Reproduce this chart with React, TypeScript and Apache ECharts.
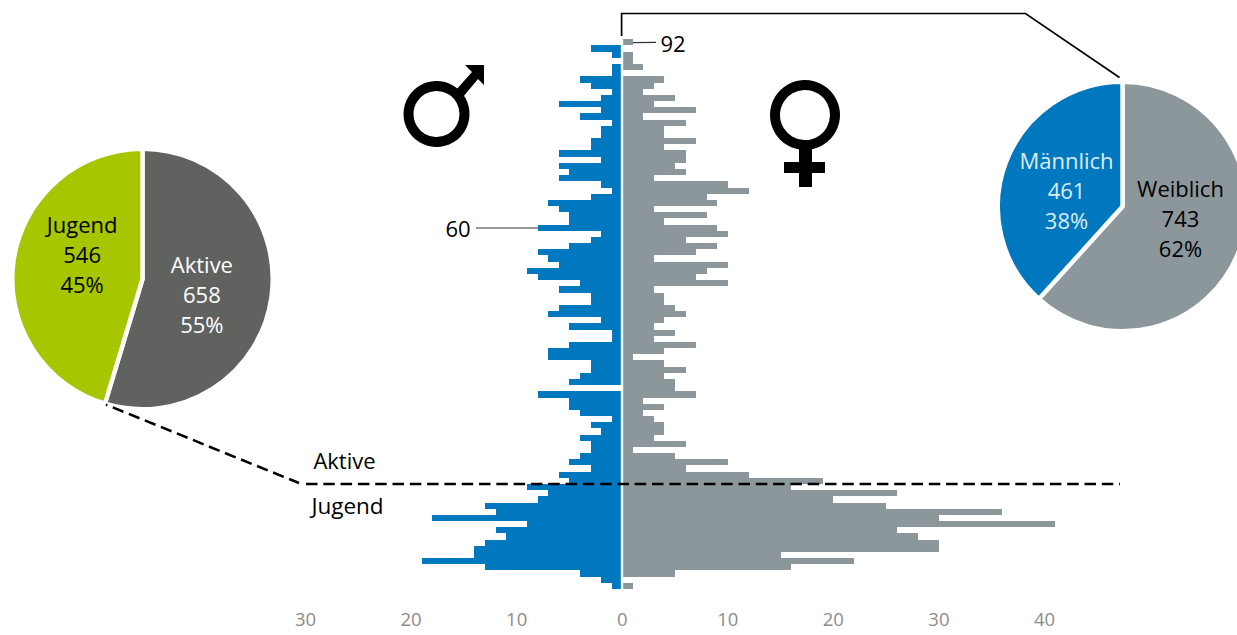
import React, { useEffect, useRef } from "react";
import * as echarts from "echarts";

const ages = [92,91,90,89,88,87,86,85,84,83,82,81,80,79,78,77,76,75,74,73,72,71,70,69,68,67,66,65,64,63,62,61,60,59,58,57,56,55,54,53,52,51,50,49,48,47,46,45,44,43,42,41,40,39,38,37,36,35,34,33,32,31,30,29,28,27,26,25,24,23,22,21,20,19,18,17,16,15,14,13,12,11,10,9,8,7,6,5,4].map(String);
const maleCounts = [0,3,1,0,1,1,4,3,1,2,6,2,4,1,2,2,3,3,6,2,6,5,6,2,1,3,7,6,5,5,8,2,3,5,8,7,6,9,8,4,6,3,3,6,7,2,5,1,1,5,7,7,3,3,4,5,0,8,5,5,4,1,3,2,4,3,3,4,5,3,6,5,9,7,8,13,12,18,9,12,11,13,14,14,19,13,4,2,1];
const femaleCounts = [1,0,1,1,2,0,4,3,2,5,3,7,2,6,4,4,7,4,6,6,5,6,3,10,12,8,9,3,8,4,9,10,6,9,7,3,10,8,7,10,3,4,4,5,6,4,3,5,3,7,4,1,4,6,4,5,5,7,2,4,2,3,4,4,3,6,1,5,10,6,12,19,16,26,20,25,36,30,41,26,28,30,30,15,22,16,5,0,1];
const genderPie = [
  { name: "Weiblich", value: 743, pct: "62%" },
  { name: "Männlich", value: 461, pct: "38%" },
];
const groupPie = [
  { name: "Aktive", value: 658, pct: "55%" },
  { name: "Jugend", value: 546, pct: "45%" },
];
const BLUE = "#0078bf";
const GRAY = "#8c979c";
const GREEN = "#a8c600";
const DARK = "#60625f";
const FONT = "'Open Sans', 'Noto Sans', sans-serif";

const MARS_HEAD = "M465 65 L484 65 L484 85 L478 79 L463 97 L456 90 L472 72 Z";

export default function App() {
  const ref = useRef<HTMLDivElement>(null);
  useEffect(() => {
    document.body.style.margin = "0";
    document.body.style.overflow = "hidden";
    const chart = echarts.init(ref.current!, undefined, { renderer: "svg" });
    echarts.graphic.registerShape("marsHead", echarts.graphic.extendPath(MARS_HEAD, {}) as any);
    const pieLabel = {
      position: "inside" as const,
      fontFamily: FONT,
      fontSize: 22,
      lineHeight: 30,
      formatter: (p: any) => `${p.name}\n${p.value}\n${p.data.pct}`,
      color: "#000",
    };
    const option: any = {
      animation: false,
      backgroundColor: "#fff",
      grid: { left: 305.5, width: 739, top: 39.3, height: 549.7, containLabel: false },
      xAxis: {
        type: "value",
        min: -30,
        max: 40,
        interval: 10,
        splitLine: { show: false },
        axisLine: { show: false },
        axisTick: { show: false },
        axisLabel: {
          color: "#8c8c8c",
          fontFamily: FONT,
          fontSize: 18.5,
          margin: 20,
          formatter: (v: number) => String(Math.abs(v)),
        },
      },
      yAxis: {
        type: "category",
        data: ages,
        inverse: true,
        axisLine: { show: false },
        axisTick: { show: false },
        axisLabel: { show: false },
        splitLine: { show: false },
      },
      series: [
        {
          type: "bar",
          name: "Männlich",
          data: maleCounts.map((v) => -v),
          barWidth: "100%",
          barGap: "-100%",
          clip: false,
          itemStyle: { color: BLUE },
          z: 2,
        },
        {
          type: "bar",
          name: "Weiblich",
          data: femaleCounts,
          barWidth: "100%",
          barGap: "-100%",
          clip: false,
          itemStyle: { color: GRAY },
          z: 2,
          markLine: {
            silent: true,
            symbol: "none",
            label: { show: false },
            lineStyle: { color: "#fff", width: 2.4, type: "solid" },
            data: [{ xAxis: 0 }],
            z: 3,
          },
        },
        {
          type: "pie",
          center: [142.5, 279],
          radius: [0, 130.2],
          startAngle: 90,
          clockwise: true,
          silent: true,
          itemStyle: { borderColor: "#fff", borderWidth: 4.4 },
          labelLine: { show: false },
          label: pieLabel,
          labelLayout: (p: any) => (p.dataIndex === 0 ? { dx: -8, dy: 5 } : { dx: 7, dy: -15 }),
          data: groupPie.map((d, i) => ({
            ...d,
            itemStyle: { color: i === 0 ? DARK : GREEN },
            label: { color: i === 0 ? "#fff" : "#000" },
          })),
        },
        {
          type: "pie",
          center: [1122.5, 206.5],
          radius: [0, 124.7],
          startAngle: 90,
          clockwise: true,
          silent: true,
          itemStyle: { borderColor: "#fff", borderWidth: 4.4 },
          labelLine: { show: false },
          label: pieLabel,
          labelLayout: (p: any) => (p.dataIndex === 0 ? { dx: -3, dy: -12 } : { dx: 5, dy: 7 }),
          data: genderPie.map((d, i) => ({
            ...d,
            itemStyle: { color: i === 0 ? GRAY : BLUE },
            label: { color: i === 0 ? "#000" : "#dcecf7" },
          })),
        },
      ],
      graphic: [
        { type: "polyline", z: 10, shape: { points: [[621.6, 36], [621.6, 13.5], [1025.5, 13.5], [1119.5, 77.5]] }, style: { fill: "none", stroke: "#000", lineWidth: 1.7 } },
        { type: "line", z: 10, shape: { x1: 106, y1: 404.7, x2: 299, y2: 483 }, style: { stroke: "#000", lineWidth: 2.5, lineDash: [11.5, 5.8], lineDashOffset: 9.5 } },
        { type: "line", z: 10, shape: { x1: 306, y1: 484, x2: 1120, y2: 484 }, style: { stroke: "#000", lineWidth: 2.5, lineDash: [11.5, 5.8] } },
        { type: "line", z: 10, shape: { x1: 633, y1: 42.7, x2: 656, y2: 42.4 }, style: { stroke: "#333", lineWidth: 1.2 } },
        { type: "line", z: 10, shape: { x1: 476, y1: 228, x2: 538, y2: 228 }, style: { stroke: "#333", lineWidth: 1.2 } },
        { type: "text", z: 10, x: 673, y: 43, style: { text: "92", fontFamily: FONT, fontSize: 22, fill: "#000", textAlign: "center", textVerticalAlign: "middle" } },
        { type: "text", z: 10, x: 458, y: 228, style: { text: "60", fontFamily: FONT, fontSize: 22, fill: "#000", textAlign: "center", textVerticalAlign: "middle" } },
        { type: "text", z: 10, x: 344.5, y: 460, style: { text: "Aktive", fontFamily: FONT, fontSize: 22, fill: "#000", textAlign: "center", textVerticalAlign: "middle" } },
        { type: "text", z: 10, x: 347.5, y: 505, style: { text: "Jugend", fontFamily: FONT, fontSize: 22.5, fill: "#000", textAlign: "center", textVerticalAlign: "middle" } },
        { type: "circle", z: 10, shape: { cx: 436.5, cy: 114, r: 28 }, style: { fill: "none", stroke: "#000", lineWidth: 10 } },
        { type: "marsHead", z: 10, style: { fill: "#000" } },
        { type: "circle", z: 10, shape: { cx: 805, cy: 115, r: 30 }, style: { fill: "none", stroke: "#000", lineWidth: 10 } },
        { type: "rect", z: 10, shape: { x: 799, y: 148, width: 13, height: 39 }, style: { fill: "#000" } },
        { type: "rect", z: 10, shape: { x: 784, y: 162, width: 41, height: 11 }, style: { fill: "#000" } },
      ],
    };
    chart.setOption(option);
    // Adjacent bars share fractional edges; snap the rectangles (not the pie arcs) so no hairlines appear.
    ref.current!.querySelectorAll("path").forEach((el) => {
      const fill = el.getAttribute("fill");
      const d = el.getAttribute("d") || "";
      if ((fill === BLUE || fill === GRAY) && !d.includes("A")) {
        el.setAttribute("shape-rendering", "crispEdges");
      }
    });
    return () => chart.dispose();
  }, []);
  return <div ref={ref} style={{ width: 1237, height: 635 }} />;
}
